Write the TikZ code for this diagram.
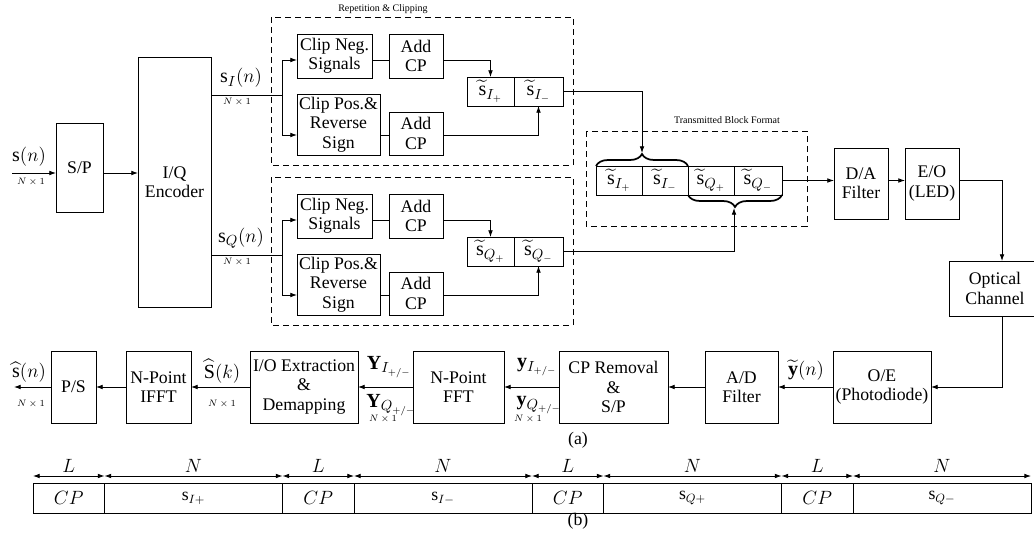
\documentclass[tikz,border=0pt]{standalone}
\usepackage{amsmath,amssymb}
\usepackage{fontspec}
\setmainfont{Liberation Serif}
\usetikzlibrary{arrows.meta,positioning,calc,decorations.pathreplacing}

\tikzset{
  blk/.style 2 args={draw, align=center, inner sep=0pt, outer sep=0pt,
    minimum width=#1*0.75pt, minimum height=#2*0.75pt},
  arr/.style={-{Latex[length=5pt,width=3.5pt]}},
  dimarr/.style={{Latex[length=5pt,width=3.5pt]}-{Latex[length=5pt,width=3.5pt]}},
  grp/.style={draw, dash pattern=on 4.5pt off 3pt},
  brc/.style={decorate, decoration={brace, amplitude=9pt}, line width=1.3pt},
  lbl/.style={font=\fontsize{15}{16}\selectfont},
  dimtxt/.style={font=\fontsize{7}{8}\selectfont},
  ttl/.style={font=\fontsize{7.5}{9}\selectfont},
}

\begin{document}
\begin{tikzpicture}[x=0.75pt, y=-0.75pt, line width=0.6pt, font=\fontsize{13.3}{14.5}\selectfont]
    \useasboundingbox (0,0) rectangle (1034,535);

    % Input, S/P and I/Q encoder
    \coordinate (in) at (12,173);
    \node[blk={47}{89}] (sptop) at (79.5,167.5) {S/P};
    \node[blk={73}{250}] (enc) at (174.5,182) {I/Q\\Encoder};
    \draw[arr] (in) -- (in -| sptop.west);
    \node[lbl] at (29,157) {$\mathrm{s}(n)$};
    \node[dimtxt] at (31,182) {$N\times 1$};
    \draw[arr] (sptop.east |- in) -- (enc.west |- in);

    % Repetition & clipping, one branch per component
    \node[ttl] at (383,9) {Repetition \& Clipping};
    \foreach \ch/\dy in {I/0, Q/160} {
        \draw[grp] (271,17+\dy) rectangle (573,165+\dy);
        \coordinate (br\ch) at (282,95+\dy);
        \coordinate (r\ch1) at (282,60+\dy);
        \coordinate (r\ch2) at (282,135+\dy);
        \node[blk={75}{44}] (cn\ch) at (334.5,56+\dy) {Clip Neg.\\Signals};
        \node[blk={83}{61}] (cp\ch) at (338.5,124.5+\dy) {Clip Pos.\&\\Reverse\\Sign};
        \node[blk={54}{44}] (ac\ch1) at (416,56+\dy) {Add\\CP};
        \node[blk={54}{43}] (ac\ch2) at (416,133.5+\dy) {Add\\CP};
        \node[blk={47}{29}, lbl] (sgp\ch) at (490.5,91.5+\dy) {$\widetilde{\mathrm{s}}_{\ch_+}$};
        \node[blk={49}{29}, lbl] (sgm\ch) at (538.5,91.5+\dy) {$\widetilde{\mathrm{s}}_{\ch_-}$};
        \node[lbl] at (241,78+\dy) {$\mathrm{s}_{\ch}(n)$};
        \node[dimtxt] at (237,102+\dy) {$N\times 1$};
        \draw (enc.east |- br\ch) -- (br\ch);
        \draw[arr] (br\ch) |- (r\ch1 -| cn\ch.west);
        \draw[arr] (br\ch) |- (r\ch2 -| cp\ch.west);
        \draw (cn\ch.east |- r\ch1) -- (ac\ch1.west |- r\ch1);
        \draw (cp\ch.east |- r\ch2) -- (ac\ch2.west |- r\ch2);
        \draw[arr] (ac\ch1.east |- r\ch1) -| (sgp\ch.north);
        \draw[arr] (ac\ch2.east |- r\ch2) -| (sgm\ch.south);
    }

    % Transmitted block format
    \draw[grp] (586,131) rectangle (807,226);
    \node[ttl] at (727,120) {Transmitted Block Format};
    \node[blk={46}{29}, lbl] (tIp) at (619,180.5) {$\widetilde{\mathrm{s}}_{I_+}$};
    \node[blk={46}{29}, lbl] (tIm) at (665,180.5) {$\widetilde{\mathrm{s}}_{I_-}$};
    \node[blk={46}{29}, lbl] (tQp) at (711,180.5) {$\widetilde{\mathrm{s}}_{Q_+}$};
    \node[blk={48}{29}, lbl] (tQm) at (758,180.5) {$\widetilde{\mathrm{s}}_{Q_-}$};
    \draw[brc] (tIp.north west) -- (tIm.north east);
    \draw[brc] (tQm.south east) -- (tQp.south west);
    \coordinate (tipI) at ($(tIp.north east)+(0,-13)$);
    \coordinate (tipQ) at ($(tQp.south east)+(0,13)$);
    \draw[arr] (sgmI.east) -| (tipI);
    \draw[arr] (sgmQ.east) -| (tipQ);

    % D/A, LED and channel
    \node[blk={54}{71}] (da) at (861,183.5) {D/A\\Filter};
    \node[blk={54}{71}] (eo) at (932,183.5) {E/O\\(LED)};
    \node[blk={92}{55}] (och) at (995,288.5) {Optical\\Channel};
    \coordinate (vx) at (1002,0);
    \draw[arr] (tQm.east) -- (tQm.east -| da.west);
    \draw[arr] (da.east |- tQm.east) -- (eo.west |- tQm.east);
    \draw[arr] (eo.east |- tQm.east) -| (vx |- och.north);

    % Receiver chain
    \node[blk={98}{72}] (oe) at (882,387) {O/E\\(Photodiode)};
    \node[blk={73}{72}] (ad) at (741.5,387) {A/D\\Filter};
    \node[blk={109}{72}] (cpr) at (613.5,387) {CP Removal\\\&\\S/P};
    \node[blk={91}{72}] (fft) at (458.5,387) {N-Point\\FFT};
    \node[blk={108}{72}] (ioe) at (304,387) {I/O Extraction\\\&\\Demapping};
    \node[blk={65}{72}] (ifft) at (158.5,387) {N-Point\\IFFT};
    \node[blk={45}{72}] (ps) at (73.5,387) {P/S};
    \coordinate (out) at (14,387);
    \draw[arr] (vx |- och.south) |- (oe.east);
    \draw[arr] (oe.west) -- (ad.east);
    \draw[arr] (ad.west) -- (cpr.east);
    \draw[arr] (cpr.west) -- (fft.east);
    \draw[arr] (fft.west) -- (ioe.east);
    \draw[arr] (ioe.west) -- (ifft.east);
    \draw[arr] (ifft.west) -- (ps.east);
    \draw[arr] (ps.west) -- (out);

    % Receiver labels
    \node[lbl] at (806,370) {$\widetilde{\mathbf{y}}(n)$};
    \node[lbl] at (537,367) {$\mathbf{y}_{I_{+/-}}$};
    \node[lbl] at (539,405) {$\mathbf{y}_{Q_{+/-}}$};
    \node[dimtxt] at (528,419) {$N\times 1$};
    \node[lbl] at (389,367) {$\mathbf{Y}_{I_{+/-}}$};
    \node[lbl] at (391,405) {$\mathbf{Y}_{Q_{+/-}}$};
    \node[dimtxt] at (383,419) {$N\times 1$};
    \node[lbl] at (222,371) {$\widehat{\mathrm{S}}(k)$};
    \node[dimtxt] at (222,404) {$N\times 1$};
    \node[lbl] at (29,372) {$\widehat{\mathrm{s}}(n)$};
    \node[dimtxt] at (31,404) {$N\times 1$};
    \node at (578,440) {(a)};

    % Frame structure
    \node[blk={71.5}{30}] (b1) at (68.75,498) {$CP$};
    \node[blk={178}{30}, right=0pt of b1] (b2) {$\mathrm{s}_{I+}$};
    \node[blk={71.5}{30}, right=0pt of b2] (b3) {$CP$};
    \node[blk={178}{30}, right=0pt of b3] (b4) {$\mathrm{s}_{I-}$};
    \node[blk={71.5}{30}, right=0pt of b4] (b5) {$CP$};
    \node[blk={178}{30}, right=0pt of b5] (b6) {$\mathrm{s}_{Q+}$};
    \node[blk={71.5}{30}, right=0pt of b6] (b7) {$CP$};
    \node[blk={178}{30}, right=0pt of b7] (b8) {$\mathrm{s}_{Q-}$};
    \foreach \j/\lab in {1/L,2/N,3/L,4/N,5/L,6/N,7/L,8/N}
        \draw[dimarr] ($(b\j.north west)+(0,-7)$) -- ($(b\j.north east)+(0,-7)$)
            node[midway, above=-1pt] {$\lab$};
    \node at (578,521) {(b)};
\end{tikzpicture}
\end{document}
